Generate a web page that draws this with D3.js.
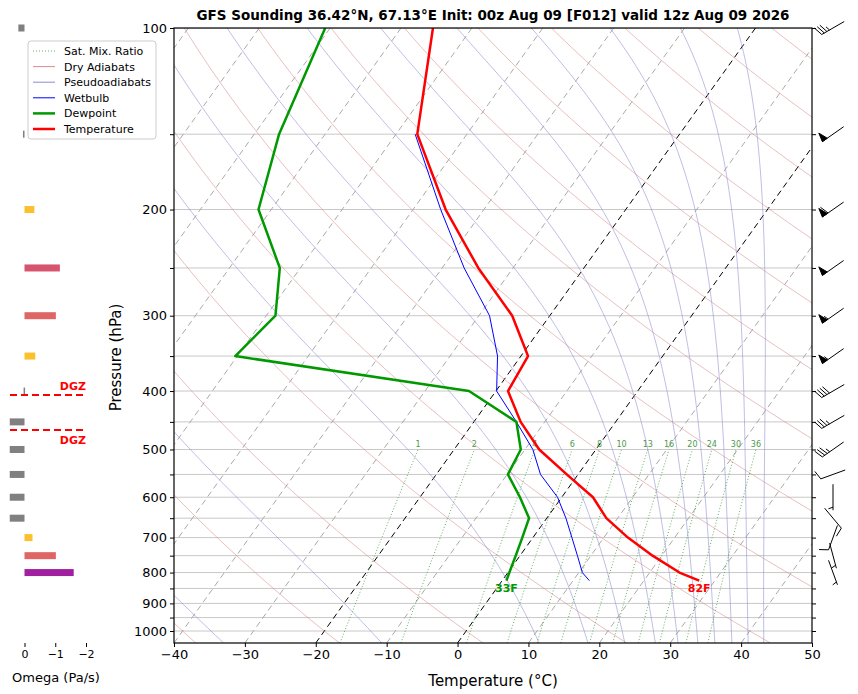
<!DOCTYPE html>
<html>
<head>
<meta charset="utf-8">
<script src="https://cdn.jsdelivr.net/npm/d3@7/dist/d3.min.js"></script>
<style>
body { margin: 0; background: #fff; font-family: "DejaVu Sans", sans-serif; }
</style>
</head>
<body>
<div id="chart"></div>
<script>
// sounding levels (hPa)
const levels = [100, 150, 200, 250, 300, 350, 400, 450, 500, 550, 600, 650, 700, 750, 800, 825];
const temperature = [-65.5, -57.0, -45.4, -34.9, -25.3, -19.0, -18.3, -13.4, -8.0, -1.6, 4.4, 8.4, 13.4, 18.7, 24.2, 27.8];
const dewpoint = [-80.7, -76.5, -71.8, -62.9, -58.7, -60.3, -23.8, -14.0, -10.6, -9.9, -5.9, -2.5, -1.5, -0.6, 0.2, 0.6];
const wetbulbLevels = [150, 200, 250, 300, 350, 400, 450, 500, 550, 600, 650, 700, 750, 800, 825];
const wetbulb = [-57.3, -46.1, -36.9, -28.5, -23.3, -19.9, -14.0, -8.9, -5.3, -0.6, 2.7, 5.5, 8.1, 10.5, 12.3];

// wind barbs
const windLevels = [100, 150, 200, 250, 300, 350, 400, 450, 500, 550, 600, 650, 700, 750, 800];
const windDir = [240, 235, 235, 235, 235, 235, 240, 240, 235, 250, 180, 140, 200, 165, 160];
const windSpd = [35, 50, 60, 50, 55, 55, 40, 35, 35, 10, 5, 10, 10, 5, 5];

// omega panel
const omegaLevels = [100, 150, 200, 250, 300, 350, 400, 450, 500, 550, 600, 650, 700, 750, 800];
const omega = [0.2, 0.05, -0.32, -1.15, -1.02, -0.35, 0.03, 0.48, 0.48, 0.48, 0.48, 0.48, -0.26, -1.02, -1.6];
const omegaColors = ["#808080", "#808080", "#fbc02d", "#d6546e", "#e06666", "#fbc02d", "#808080", "#808080", "#808080", "#808080", "#808080", "#808080", "#fbc02d", "#e06666", "#a020a0"];
const dgzPressures = [406, 464];

const mixRatios = [1, 2, 4, 6, 8, 10, 13, 16, 20, 24, 30, 36];
const dryThetaC = d3.range(-40, 241, 20);
const moistStartC = [-52, -33, -10.7, 11.5, 18.4, 23.6, 27.9, 31.1, 33.9, 36.3, 38.7, 41.0, 43.2];
const xTicks = d3.range(-40, 51, 10);
const pTicks = d3.range(100, 1001, 50);

const W = 858, H = 694;
const L = 174, R = 812, T = 28, B = 643;
const skew = 0.715;

const svg = d3.select('#chart').append('svg').attr('width', W).attr('height', H);
const x = d3.scaleLinear().domain([-40, 50]).range([L, R]);
const y = d3.scaleLog().domain([100, 1000]).range([T, 631]);
const pBottom = y.invert(B);
const sx = (t, p) => x(t) + (B - y(p)) * skew;

svg.append('defs').append('clipPath').attr('id', 'clip')
    .append('rect').attr('x', L).attr('y', T).attr('width', R - L).attr('height', B - T);
const plot = svg.append('g').attr('clip-path', 'url(#clip)');
const line = d3.line().x(d => sx(d[0], d[1])).y(d => y(d[1]));

// horizontal grid
plot.selectAll('.hg').data(pTicks).join('line')
    .attr('x1', L).attr('x2', R).attr('y1', d => y(d)).attr('y2', d => y(d))
    .attr('stroke', '#c8c8c8').attr('stroke-width', 1);

// isotherms
plot.selectAll('.iso').data(d3.range(-130, 51, 10)).join('path')
    .attr('d', t => line([[t, pBottom], [t, 100]]))
    .attr('fill', 'none')
    .attr('stroke', t => (t === 0 || t === -20) ? '#000' : '#aaa')
    .attr('stroke-width', 1)
    .attr('stroke-dasharray', '6,4');

const pPath = d3.range(0, 61).map(i => pBottom * Math.pow(100 / pBottom, i / 60));

// dry adiabats
plot.selectAll('.dry').data(dryThetaC).join('path')
    .attr('d', th => line(pPath.map(p => [(th + 273.15) * Math.pow(p / 1000, 0.2857) - 273.15, p])))
    .attr('fill', 'none').attr('stroke', '#d98c8c').attr('stroke-width', 0.7).attr('opacity', 0.8);

// moist adiabats
function es(tc) { return 6.112 * Math.exp(17.67 * tc / (tc + 243.5)); }
function moist(t0) {
    const pts = [];
    let tk = t0 + 273.15, p = pBottom;
    const n = 400, f = Math.pow(100 / pBottom, 1 / n);
    pts.push([t0, p]);
    for (let i = 0; i < n; i++) {
        const pn = p * f;
        const e = es(tk - 273.15), rs = 0.622 * e / (p - e);
        const dTdp = (287 * tk + 2.501e6 * rs) / (1005 + 2.501e6 * 2.501e6 * rs * 0.622 / (287 * tk * tk)) / p;
        tk += dTdp * (pn - p);
        p = pn;
        if (i % 5 === 4) pts.push([tk - 273.15, p]);
    }
    return pts;
}
plot.selectAll('.moist').data(moistStartC).join('path')
    .attr('d', t0 => line(moist(t0)))
    .attr('fill', 'none').attr('stroke', '#8c8cd0').attr('stroke-width', 0.7).attr('opacity', 0.8);

// mixing ratio lines
function tdFromW(w, p) {
    const e = (w / 1000) * p / (0.622 + w / 1000);
    const g = Math.log(e / 6.112);
    return 243.5 * g / (17.67 - g);
}
const mixP = d3.range(0, 21).map(i => pBottom * Math.pow(500 / pBottom, i / 20));
plot.selectAll('.mix').data(mixRatios).join('path')
    .attr('d', w => line(mixP.map(p => [tdFromW(w, p), p])))
    .attr('fill', 'none').attr('stroke', '#3a9a3a').attr('stroke-width', 0.8)
    .attr('stroke-dasharray', '1,2');
plot.selectAll('.mixl').data(mixRatios).join('text')
    .attr('x', w => sx(tdFromW(w, 500), 500)).attr('y', y(500) - 2)
    .attr('text-anchor', 'middle').attr('font-size', 8).attr('fill', '#4a9a4a')
    .text(d => d);

// profiles
const wbLine = wetbulbLevels.map((p, i) => [wetbulb[i], p]);
plot.append('path').attr('d', line(wbLine)).attr('fill', 'none').attr('stroke', '#0000ff').attr('stroke-width', 1);
plot.append('path').attr('d', line(levels.map((p, i) => [dewpoint[i], p])))
    .attr('fill', 'none').attr('stroke', '#009900').attr('stroke-width', 2.5).attr('stroke-linejoin', 'round');
plot.append('path').attr('d', line(levels.map((p, i) => [temperature[i], p])))
    .attr('fill', 'none').attr('stroke', '#ff0000').attr('stroke-width', 2.5).attr('stroke-linejoin', 'round');

const cToF = c => Math.round(c * 9 / 5 + 32) + 'F';
const pSfc = levels[levels.length - 1];
svg.append('text').attr('x', sx(dewpoint[dewpoint.length - 1], pSfc)).attr('y', y(pSfc) + 11)
    .attr('text-anchor', 'middle').attr('font-size', 11).attr('font-weight', 'bold').attr('fill', '#009900')
    .text(cToF(dewpoint[dewpoint.length - 1]));
svg.append('text').attr('x', sx(temperature[temperature.length - 1], pSfc)).attr('y', y(pSfc) + 11)
    .attr('text-anchor', 'middle').attr('font-size', 11).attr('font-weight', 'bold').attr('fill', '#ff0000')
    .text(cToF(temperature[temperature.length - 1]));

// frame and axes
svg.append('rect').attr('x', L).attr('y', T).attr('width', R - L).attr('height', B - T)
    .attr('fill', 'none').attr('stroke', '#000').attr('stroke-width', 1.2);
svg.append('g').attr('transform', `translate(0,${B})`)
    .call(d3.axisBottom(x).tickValues(xTicks).tickSize(4).tickFormat(d => d < 0 ? '\u2212' + Math.abs(d) : d))
    .call(g => g.select('.domain').remove())
    .selectAll('text').attr('font-size', 13).attr('font-family', 'DejaVu Sans').attr('fill', '#000');
svg.append('g').attr('transform', `translate(${L},0)`)
    .call(d3.axisLeft(y).tickValues(pTicks).tickSize(4).tickFormat(d => d % 100 === 0 ? d : ''))
    .call(g => g.select('.domain').remove())
    .selectAll('text').attr('font-size', 13).attr('font-family', 'DejaVu Sans').attr('fill', '#000');
svg.append('g').attr('transform', `translate(${R},0)`)
    .call(d3.axisRight(y).tickValues(pTicks).tickSize(4).tickFormat(''))
    .call(g => g.select('.domain').remove());

svg.append('text').attr('x', (L + R) / 2).attr('y', 686).attr('text-anchor', 'middle')
    .attr('font-size', 15).text('Temperature (°C)');
svg.append('text').attr('transform', `translate(121,${(T + B) / 2 + 22}) rotate(-90)`)
    .attr('text-anchor', 'middle').attr('font-size', 15).text('Pressure (hPa)');
svg.append('text').attr('x', 493).attr('y', 20).attr('text-anchor', 'middle')
    .attr('font-size', 13.5).attr('font-weight', 'bold')
    .text('GFS Sounding 36.42°N, 67.13°E Init: 00z Aug 09 [F012] valid 12z Aug 09 2026');

// wind barbs (pivot middle)
const barbs = svg.append('g').attr('stroke', '#000').attr('fill', '#000').attr('stroke-width', 1);
windLevels.forEach((p, i) => {
    const d = windDir[i] * Math.PI / 180;
    const ux = Math.sin(d), uy = -Math.cos(d);       // toward source
    const len = 26, cx = 833, cy = y(p);
    const x0 = cx - ux * len / 2, y0 = cy - uy * len / 2;
    const x1 = cx + ux * len / 2, y1 = cy + uy * len / 2;
    barbs.append('line').attr('x1', x0).attr('y1', y0).attr('x2', x1).attr('y2', y1);
    const nx = -uy, ny = ux;                         // feather side
    let spd = Math.round(windSpd[i] / 5) * 5, pos = 0;
    const step = 3;
    while (spd >= 50) {
        const ax = x1 - ux * pos, ay = y1 - uy * pos;
        const bx = x1 - ux * (pos + 6), by = y1 - uy * (pos + 6);
        barbs.append('path').attr('d', `M${ax},${ay}L${ax + nx * 9 - ux * 2},${ay + ny * 9 - uy * 2}L${bx},${by}Z`);
        pos += 7; spd -= 50;
    }
    while (spd >= 10) {
        const ax = x1 - ux * pos, ay = y1 - uy * pos;
        barbs.append('line').attr('x1', ax).attr('y1', ay).attr('x2', ax + nx * 9 + ux * 3).attr('y2', ay + ny * 9 + uy * 3);
        pos += step; spd -= 10;
    }
    if (spd >= 5) {
        if (pos === 0) pos = step;
        const ax = x1 - ux * pos, ay = y1 - uy * pos;
        barbs.append('line').attr('x1', ax).attr('y1', ay).attr('x2', ax + nx * 4.5 + ux * 1.5).attr('y2', ay + ny * 4.5 + uy * 1.5);
    }
});

// omega panel
const ox = d3.scaleLinear().domain([0, -2]).range([24.5, 86]);
svg.selectAll('.om').data(omegaLevels).join('rect')
    .attr('x', (p, i) => Math.min(ox(0), ox(omega[i])))
    .attr('width', (p, i) => Math.max(1.5, Math.abs(ox(omega[i]) - ox(0))))
    .attr('y', p => y(p) - 3.5).attr('height', 7)
    .attr('fill', (p, i) => omegaColors[i]);
svg.append('g').attr('transform', `translate(0,${B})`)
    .call(d3.axisBottom(ox).tickValues([0, -1, -2]).tickSize(4).tickFormat(d => d < 0 ? '\u2212' + Math.abs(d) : d))
    .call(g => g.select('.domain').remove())
    .selectAll('text').attr('font-size', 11).attr('font-family', 'DejaVu Sans');
svg.append('text').attr('x', 56).attr('y', 682).attr('text-anchor', 'middle').attr('font-size', 13).text('Omega (Pa/s)');
dgzPressures.forEach((p, i) => {
    svg.append('line').attr('x1', 10).attr('x2', 85).attr('y1', y(p)).attr('y2', y(p))
        .attr('stroke', '#ff0000').attr('stroke-width', 2).attr('stroke-dasharray', '7,4');
    svg.append('text').attr('x', 86).attr('y', i === 0 ? y(p) - 5 : y(p) + 14).attr('text-anchor', 'end')
        .attr('font-size', 11).attr('font-weight', 'bold').attr('fill', '#ff0000').text('DGZ');
});

// legend
const legendItems = [
    { name: 'Sat. Mix. Ratio', color: '#3a9a3a', w: 0.8, dash: '1,2' },
    { name: 'Dry Adiabats', color: '#d98c8c', w: 1, dash: null },
    { name: 'Pseudoadiabats', color: '#8c8cd0', w: 1, dash: null },
    { name: 'Wetbulb', color: '#0000ff', w: 1, dash: null },
    { name: 'Dewpoint', color: '#009900', w: 2.5, dash: null },
    { name: 'Temperature', color: '#ff0000', w: 2.5, dash: null }
];
const lg = svg.append('g').attr('transform', 'translate(28,41)');
lg.append('rect').attr('width', 128).attr('height', 98).attr('rx', 3)
    .attr('fill', '#fff').attr('stroke', '#ccc');
legendItems.forEach((d, i) => {
    const yy = 10 + i * 15.6;
    lg.append('line').attr('x1', 5).attr('x2', 27).attr('y1', yy).attr('y2', yy)
        .attr('stroke', d.color).attr('stroke-width', d.w).attr('stroke-dasharray', d.dash);
    lg.append('text').attr('x', 36).attr('y', yy + 4).attr('font-size', 11).text(d.name);
});
</script>
</body>
</html>
